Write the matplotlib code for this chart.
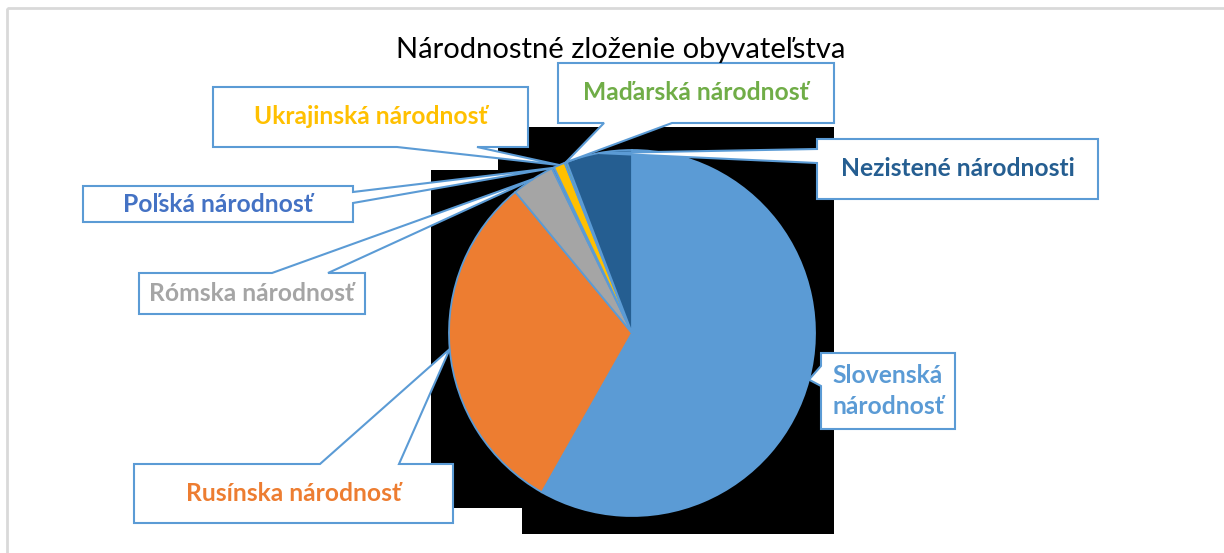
"""Národnostné zloženie obyvateľstva - pie chart with callout labels."""

import matplotlib

matplotlib.use("Agg")

import matplotlib.pyplot as plt
import numpy as np
from matplotlib.patches import Polygon, Rectangle

W, H = 1224, 553

# data (percent), clockwise from 12 o'clock
categories = [
    "Slovenská národnosť",
    "Rusínska národnosť",
    "Rómska národnosť",
    "Poľská národnosť",
    "Ukrajinská národnosť",
    "Maďarská národnosť",
    "Nezistené národnosti",
]
shares = [58.2, 30.8, 3.8, 0.2, 1.0, 0.2, 5.8]
label_texts = [
    "Slovenská\nnárodnosť",
    "Rusínska národnosť",
    "Rómska národnosť",
    "Poľská národnosť",
    "Ukrajinská národnosť",
    "Maďarská národnosť",
    "Nezistené národnosti",
]
colors = ["#5B9BD5", "#ED7D31", "#A5A5A5", "#4472C4", "#FFC000", "#70AD47", "#255E91"]
title = "Národnostné zloženie obyvateľstva"

# layout in pixels (top-left origin)
CENTER = (632, 333)
RADIUS = 183
EDGE = "#5B9BD5"
FONT = "Lato"

# box: (x0, y0, x1, y1), pointer edge, pointer base (two coords along that edge)
CALLOUTS = [
    ((821, 353, 955, 429), "left", (366, 386)),
    ((134, 464, 453, 523), "top", (320, 399)),
    ((139, 273, 365, 314), "top", (272, 328)),
    ((83, 186, 353, 222), "right", (192, 203)),
    ((213, 87, 528, 147), "bottom", (397, 477)),
    ((558, 63, 834, 123), "bottom", (604, 672)),
    ((817, 139, 1098, 199), "left", (149, 163)),
]


def callout_polygon(box, edge, base, tip):
    x0, y0, x1, y1 = box
    a, b = base
    if edge == "top":
        return [(x0, y0), (a, y0), tip, (b, y0), (x1, y0), (x1, y1), (x0, y1)]
    if edge == "right":
        return [(x0, y0), (x1, y0), (x1, a), tip, (x1, b), (x1, y1), (x0, y1)]
    if edge == "bottom":
        return [(x0, y0), (x1, y0), (x1, y1), (b, y1), tip, (a, y1), (x0, y1)]
    return [(x0, y0), (x1, y0), (x1, y1), (x0, y1), (x0, b), tip, (x0, a)]


def main():
    fig = plt.figure(figsize=(W / 100, H / 100), dpi=100)
    fig.patch.set_facecolor("white")

    bg = fig.add_axes([0, 0, 1, 1], zorder=0)
    bg.set_xlim(0, W)
    bg.set_ylim(H, 0)
    bg.axis("off")

    # chart area border (only top/left visible) and the black artefact behind the pie
    bg.add_patch(Rectangle((7, 8), W + 20, H + 20, fill=False, edgecolor="#D9D9D9", linewidth=2))
    black = [
        (431, 170), (498, 170), (498, 127), (834, 127), (834, 534),
        (522, 534), (522, 508), (431, 508),
    ]
    bg.add_patch(Polygon(black, closed=True, facecolor="black", edgecolor="none"))

    # pie axes placed so that radius 1 maps to RADIUS pixels
    cx, cy = CENTER
    pie_ax = fig.add_axes(
        [(cx - RADIUS) / W, (H - cy - RADIUS) / H, 2 * RADIUS / W, 2 * RADIUS / H],
        zorder=1,
    )
    pie_ax.patch.set_alpha(0)
    pie_ax.pie(
        shares,
        colors=colors,
        startangle=90,
        counterclock=False,
        radius=1,
        wedgeprops={"edgecolor": EDGE, "linewidth": 1.3},
    )
    pie_ax.set_xlim(-1, 1)
    pie_ax.set_ylim(-1, 1)
    pie_ax.set_aspect("auto")
    pie_ax.axis("off")

    # callouts on top
    top = fig.add_axes([0, 0, 1, 1], zorder=2)
    top.patch.set_alpha(0)
    top.set_xlim(0, W)
    top.set_ylim(H, 0)
    top.axis("off")

    fracs = np.array(shares) / sum(shares)
    ends = 90 - 360 * np.cumsum(fracs)
    starts = ends + 360 * fracs
    mids = np.radians((starts + ends) / 2)

    for i, (box, edge, base) in enumerate(CALLOUTS):
        tip = (cx + RADIUS * np.cos(mids[i]), cy - RADIUS * np.sin(mids[i]))
        poly = callout_polygon(box, edge, base, tip)
        top.add_patch(Polygon(poly, closed=True, facecolor="white", edgecolor=EDGE, linewidth=1.5))
        x0, y0, x1, y1 = box
        top.text(
            (x0 + x1) / 2, (y0 + y1) / 2, label_texts[i],
            ha="center", va="center", color=colors[i], fontsize=17.7,
            fontweight="bold", family=FONT, linespacing=1.4,
        )

    top.text(621, 50, title, ha="center", va="center", fontsize=21, family=FONT, color="black")

    fig.savefig("out.png", dpi=100)
    plt.close(fig)


if __name__ == "__main__":
    main()
